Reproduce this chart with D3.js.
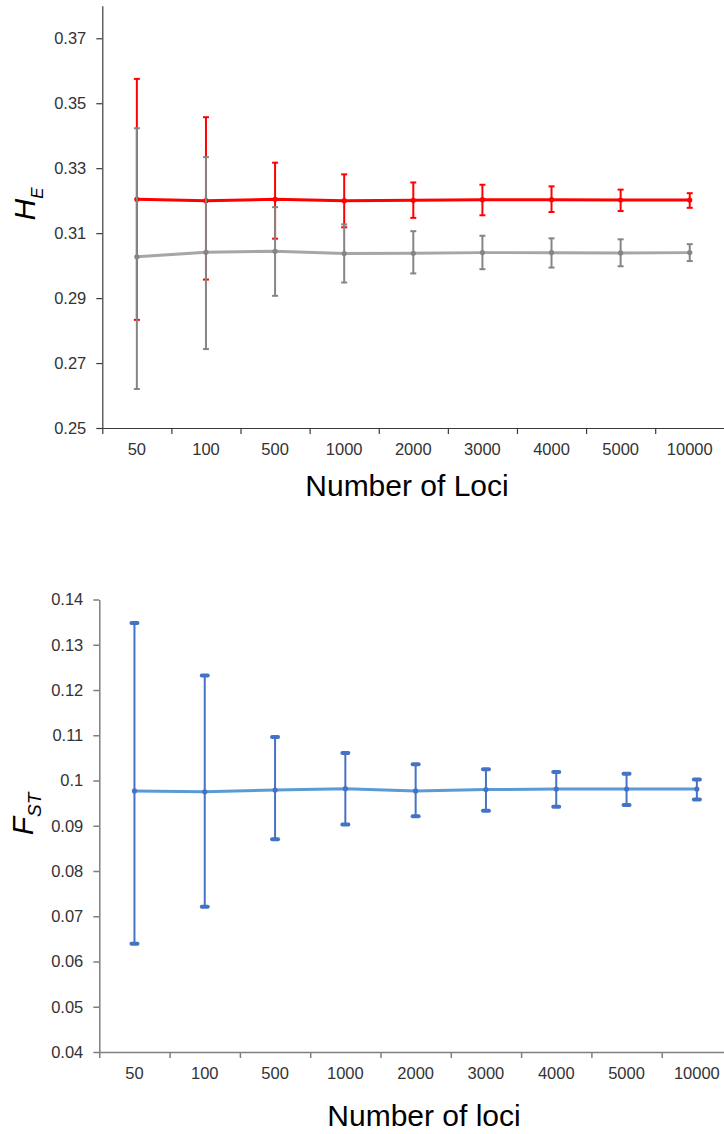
<!DOCTYPE html>
<html>
<head>
<meta charset="utf-8">
<script src="https://cdn.jsdelivr.net/npm/d3@7"></script>
<style>
  html, body { margin: 0; padding: 0; background: #fff; }
  svg { display: block; font-family: "Liberation Sans", Arial, sans-serif; }
</style>
</head>
<body>
<div class="viz"></div>
<script>
// categories shared by both panels
const loci = ['50', '100', '500', '1000', '2000', '3000', '4000', '5000', '10000'];

// expected heterozygosity, red series (mean and error bar ends)
const heRed = [0.3204, 0.3200, 0.3204, 0.3200, 0.3201, 0.3203, 0.3203, 0.3202, 0.3202];
const heRedHi = [0.3575, 0.3457, 0.3317, 0.3281, 0.3256, 0.3249, 0.3244, 0.3234, 0.3223];
const heRedLo = [0.2833, 0.2957, 0.3083, 0.3118, 0.3147, 0.3155, 0.3165, 0.3168, 0.3178];

// expected heterozygosity, gray series
const heGray = [0.3027, 0.3041, 0.3044, 0.3037, 0.3038, 0.3040, 0.3040, 0.3039, 0.3040];
const heGrayHi = [0.3423, 0.3334, 0.3180, 0.3127, 0.3106, 0.3092, 0.3084, 0.3081, 0.3066];
const heGrayLo = [0.2620, 0.2743, 0.2907, 0.2948, 0.2976, 0.2989, 0.2994, 0.2998, 0.3014];

// FST, blue series
const fst = [0.0977, 0.0975, 0.0979, 0.0982, 0.0977, 0.0980, 0.0981, 0.0981, 0.0981];
const fstHi = [0.1348, 0.1232, 0.1096, 0.1061, 0.1036, 0.1025, 0.1019, 0.1015, 0.1002];
const fstLo = [0.0639, 0.0721, 0.0870, 0.0903, 0.0921, 0.0933, 0.0942, 0.0946, 0.0958];

// y tick values
const heTicks = [0.25, 0.27, 0.29, 0.31, 0.33, 0.35, 0.37];
const fstTicks = [0.04, 0.05, 0.06, 0.07, 0.08, 0.09, 0.1, 0.11, 0.12, 0.13, 0.14];

const svg = d3.select('.viz')
  .append('svg')
  .attr('width', 724)
  .attr('height', 1134);

// draws one panel: axes, lines, error bars
function panel(opts) {
  const { x0, x1, y0, y1, domain, ticks, tickFmt, axisColor, labelColor } = opts;

  const x = d3.scaleBand().domain(loci).range([x0, x1]).padding(0);
  // boundaries of the categories, used for the tick marks of the x axis
  const xEdges = d3.scaleLinear().domain([0, loci.length]).range([x0, x1]);
  const y = d3.scaleLinear().domain(domain).range([y0, y1]);

  const g = svg.append('g');

  // y axis
  const yAxis = g.append('g')
    .attr('transform', `translate(${x0} 0)`)
    .call(d3.axisLeft(y).tickValues(ticks).tickFormat(tickFmt).tickSize(6).tickPadding(10).tickSizeOuter(0));

  // x axis: tick marks at category boundaries, labels in the middle
  const xAxis = g.append('g')
    .attr('transform', `translate(0 ${y0})`)
    .call(d3.axisBottom(xEdges).tickValues(d3.range(0, loci.length + 1)).tickFormat('').tickSize(6).tickSizeOuter(0));

  const xLabels = g.append('g')
    .attr('transform', `translate(0 ${y0})`)
    .call(d3.axisBottom(x).tickSize(0).tickPadding(opts.xPad));
  xLabels.select('.domain').remove();

  [yAxis, xAxis].forEach((ax) => {
    ax.selectAll('path, line').attr('stroke', axisColor).attr('stroke-width', opts.axisWidth);
  });
  g.selectAll('.tick text')
    .attr('fill', labelColor)
    .attr('font-size', '16.5px')
    .attr('font-family', '"Liberation Sans", Arial, sans-serif');

  // series: line, error bars, markers
  opts.series.forEach((s) => {
    const pts = loci.map((d, i) => ({ d, m: s.mean[i], hi: s.hi[i], lo: s.lo[i] }));
    const cx = (p) => x(p.d) + x.bandwidth() / 2;

    g.append('path')
      .attr('d', d3.line().x(cx).y((p) => y(p.m))(pts))
      .attr('fill', 'none')
      .attr('stroke', s.line)
      .attr('stroke-width', 3)
      .attr('stroke-linejoin', 'round');

    const bars = g.append('g').selectAll('g').data(pts).join('g');
    bars.append('line')
      .attr('x1', cx).attr('x2', cx)
      .attr('y1', (p) => y(p.hi)).attr('y2', (p) => y(p.lo))
      .attr('stroke', s.bar)
      .attr('stroke-width', 2);
    ['hi', 'lo'].forEach((k) => {
      bars.append('line')
        .attr('x1', (p) => cx(p) - s.cap).attr('x2', (p) => cx(p) + s.cap)
        .attr('y1', (p) => y(p[k])).attr('y2', (p) => y(p[k]))
        .attr('stroke', s.bar)
        .attr('stroke-width', s.capWidth)
        .attr('stroke-linecap', s.capRound ? 'round' : 'butt');
    });
    bars.append('circle')
      .attr('cx', cx)
      .attr('cy', (p) => y(p.m))
      .attr('r', 2.6)
      .attr('fill', s.bar);
  });

  // axis title
  g.append('text')
    .attr('x', opts.titleX)
    .attr('y', opts.titleY)
    .attr('text-anchor', 'middle')
    .attr('font-size', '30px')
    .attr('fill', '#000')
    .text(opts.title);

  // rotated y label with subscript
  const yl = g.append('text')
    .attr('transform', `translate(${opts.yLabelX} ${opts.yLabelY}) rotate(-90)`)
    .attr('text-anchor', 'middle')
    .attr('font-style', 'italic')
    .attr('fill', '#000');
  yl.append('tspan').attr('font-size', '30px').text(opts.yMain);
  yl.append('tspan').attr('font-size', opts.subSize).attr('dy', 8).text(opts.ySub);

  return g;
}

// H_E panel
panel({
  x0: 102.3, x1: 724.3, y0: 428, y1: 5.8,
  domain: [0.25, 0.38],
  ticks: heTicks,
  tickFmt: d3.format('.2f'),
  axisColor: '#3a3a3a',
  axisWidth: 1.2,
  labelColor: '#333',
  xPad: 15,
  title: 'Number of Loci',
  titleX: 407,
  titleY: 496,
  yMain: 'H',
  ySub: 'E',
  subSize: '17px',
  yLabelX: 35,
  yLabelY: 204,
  series: [
    { mean: heRed, hi: heRedHi, lo: heRedLo, line: '#ff0000', bar: '#ff0000', cap: 3, capWidth: 2 },
    { mean: heGray, hi: heGrayHi, lo: heGrayLo, line: '#a6a6a6', bar: '#858585', cap: 3, capWidth: 2 },
  ],
});

// F_ST panel
panel({
  x0: 99.3, x1: 732, y0: 1052, y1: 599.5,
  domain: [0.04, 0.14],
  ticks: fstTicks,
  tickFmt: (d) => (Math.abs(d - 0.1) < 1e-9 ? '0.1' : d3.format('.2f')(d)),
  axisColor: '#7f7f7f',
  axisWidth: 1.5,
  labelColor: '#333',
  xPad: 15,
  title: 'Number of loci',
  titleX: 424,
  titleY: 1126,
  yMain: 'F',
  ySub: 'ST',
  subSize: '19px',
  yLabelX: 33,
  yLabelY: 814,
  series: [
    { mean: fst, hi: fstHi, lo: fstLo, line: '#5b9bd5', bar: '#4472c4', cap: 3, capWidth: 4, capRound: true },
  ],
});
</script>
</body>
</html>
